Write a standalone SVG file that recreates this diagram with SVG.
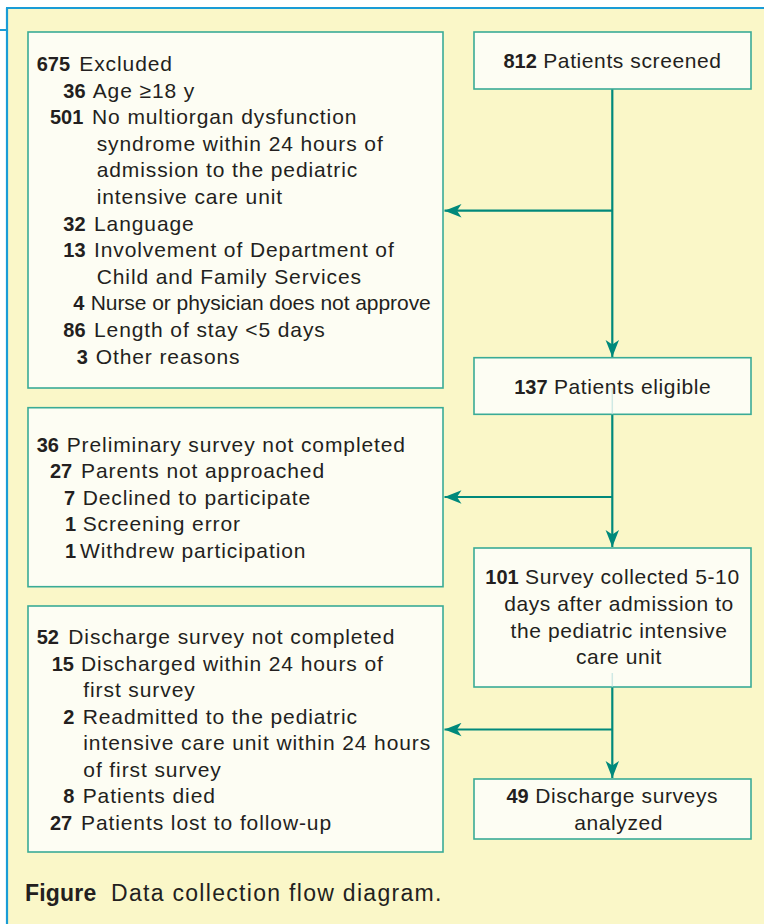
<svg xmlns="http://www.w3.org/2000/svg" width="764" height="924" viewBox="0 0 764 924">
  <style>
    .t { font-family: "Liberation Sans", Arial, sans-serif; font-size: 21px; fill: #231f20; letter-spacing: 0.9px; }
    .r { letter-spacing: 0.6px; }
    .b { font-weight: bold; font-size: 20px; letter-spacing: 0; }
    .box { fill: #fdfdf3; stroke: #3aab96; stroke-width: 1.6; }
    .con { fill: none; stroke: #00897b; stroke-width: 2.2; }
    .ghost { stroke: #cfe9e4; stroke-width: 1.5; }
    .cap { font-family: "Liberation Sans", Arial, sans-serif; font-size: 23px; fill: #231f20; letter-spacing: 1.3px; }
    .capb { font-weight: bold; letter-spacing: 0.2px; }
  </style>
  <defs>
    <marker id="ah" viewBox="0 0 18 14" refX="17" refY="7" markerWidth="18" markerHeight="14" markerUnits="userSpaceOnUse" orient="auto">
      <path d="M17,7 L0,0.3 L4.5,7 L0,13.7 Z" fill="#00897b"/>
    </marker>
  </defs>

  <!-- panel -->
  <rect x="0" y="0" width="764" height="924" fill="#ffffff"/>
  <rect x="7" y="8" width="757" height="916" fill="#faf7c8"/>
  <path d="M6,8 H764 M7,8 V924 M0,30 H7" stroke="#1a9cd6" stroke-width="2.2" fill="none"/>

  <!-- connectors -->
  <g id="connectors">
    <path class="con" d="M612.3,89 V357" marker-end="url(#ah)"/>
    <path class="con" d="M612.3,210.7 H444.5" marker-end="url(#ah)"/>
    <path class="con" d="M612.3,414 V547" marker-end="url(#ah)"/>
    <path class="con" d="M612.3,497 H444.5" marker-end="url(#ah)"/>
    <path class="con" d="M612.3,687 V778" marker-end="url(#ah)"/>
    <path class="con" d="M612.3,729.5 H444.5" marker-end="url(#ah)"/>
  </g>

  <!-- Excluded -->
  <g id="excluded">
    <rect class="box" x="28" y="32" width="415" height="356"/>
    <text class="t" y="71"><tspan x="36.7" class="b">675</tspan><tspan x="79.3">Excluded</tspan></text>
    <text class="t" y="97.6"><tspan x="63.3" class="b">36</tspan><tspan x="92.7">Age ≥18 y</tspan></text>
    <text class="t" y="124.2"><tspan x="50" class="b">501</tspan><tspan x="92">No multiorgan dysfunction</tspan></text>
    <text class="t" y="150.8" x="96.7">syndrome within 24 hours of</text>
    <text class="t" y="177.4" x="96.7">admission to the pediatric</text>
    <text class="t" y="204" x="96.7">intensive care unit</text>
    <text class="t" y="230.6"><tspan x="63.3" class="b">32</tspan><tspan x="94">Language</tspan></text>
    <text class="t" y="257.2"><tspan x="63.3" class="b">13</tspan><tspan x="94">Involvement of Department of</tspan></text>
    <text class="t" y="283.8" x="96.7">Child and Family Services</text>
    <text class="t" y="310.4"><tspan x="73.3" class="b">4</tspan><tspan x="90.7" textLength="341" lengthAdjust="spacing">Nurse or physician does not approve</tspan></text>
    <text class="t" y="337"><tspan x="63.3" class="b">86</tspan><tspan x="94">Length of stay &lt;5 days</tspan></text>
    <text class="t" y="363.6"><tspan x="76.7" class="b">3</tspan><tspan x="95.7">Other reasons</tspan></text>
  </g>

  <!-- Screened -->
  <g id="screened">
    <rect class="box" x="474" y="32" width="277" height="57"/>
    <text class="t r" x="612.5" y="67.7" text-anchor="middle"><tspan class="b">812</tspan> Patients screened</text>
  </g>

  <!-- Eligible -->
  <g id="eligible">
    <rect class="box" x="474" y="357.7" width="277" height="56.6"/>
    <line class="ghost" x1="612.3" y1="388" x2="612.3" y2="413.5"/>
    <text class="t r" x="612.7" y="393.5" text-anchor="middle"><tspan class="b">137</tspan> Patients eligible</text>
  </g>

  <!-- Preliminary -->
  <g id="preliminary">
    <rect class="box" x="28" y="407.7" width="415" height="179"/>
    <text class="t" y="451.7"><tspan x="36.7" class="b">36</tspan><tspan x="66.7">Preliminary survey not completed</tspan></text>
    <text class="t" y="477.9"><tspan x="50" class="b">27</tspan><tspan x="81">Parents not approached</tspan></text>
    <text class="t" y="504.6"><tspan x="64" class="b">7</tspan><tspan x="82.7">Declined to participate</tspan></text>
    <text class="t" y="531.2"><tspan x="65" class="b">1</tspan><tspan x="82.7">Screening error</tspan></text>
    <text class="t" y="557.7"><tspan x="65" class="b">1</tspan><tspan x="80">Withdrew participation</tspan></text>
  </g>

  <!-- Survey collected -->
  <g id="survey">
    <rect class="box" x="474" y="548" width="277" height="139"/>
    <line class="ghost" x1="612.3" y1="673" x2="612.3" y2="686.5"/>
    <text class="t r" x="612.5" y="584.3" text-anchor="middle"><tspan class="b">101</tspan> Survey collected 5-10</text>
    <text class="t r" x="619" y="611" text-anchor="middle">days after admission to</text>
    <text class="t r" x="619" y="637.7" text-anchor="middle">the pediatric intensive</text>
    <text class="t r" x="619" y="664.3" text-anchor="middle">care unit</text>
  </g>

  <!-- Discharge not completed -->
  <g id="discharge">
    <rect class="box" x="28" y="606" width="415" height="246"/>
    <text class="t" y="644.3"><tspan x="36.7" class="b">52</tspan><tspan x="68.3">Discharge survey not completed</tspan></text>
    <text class="t" y="670.5"><tspan x="51.7" class="b">15</tspan><tspan x="81">Discharged within 24 hours of</tspan></text>
    <text class="t" y="697" x="83.3">first survey</text>
    <text class="t" y="723.5"><tspan x="63.3" class="b">2</tspan><tspan x="82.7">Readmitted to the pediatric</tspan></text>
    <text class="t" y="750" x="83.3">intensive care unit within 24 hours</text>
    <text class="t" y="776.6" x="83.3">of first survey</text>
    <text class="t" y="803.2"><tspan x="63.3" class="b">8</tspan><tspan x="82.7">Patients died</tspan></text>
    <text class="t" y="829.8"><tspan x="50" class="b">27</tspan><tspan x="81">Patients lost to follow-up</tspan></text>
  </g>

  <!-- Analyzed -->
  <g id="analyzed">
    <rect class="box" x="474" y="779" width="277" height="60"/>
    <text class="t r" x="612.3" y="803.3" text-anchor="middle"><tspan class="b">49</tspan> Discharge surveys</text>
    <text class="t r" x="618.7" y="830" text-anchor="middle">analyzed</text>
  </g>

  <!-- caption -->
  <text class="cap" y="900.5"><tspan x="25" class="capb">Figure</tspan><tspan x="111">Data collection flow diagram.</tspan></text>
</svg>
